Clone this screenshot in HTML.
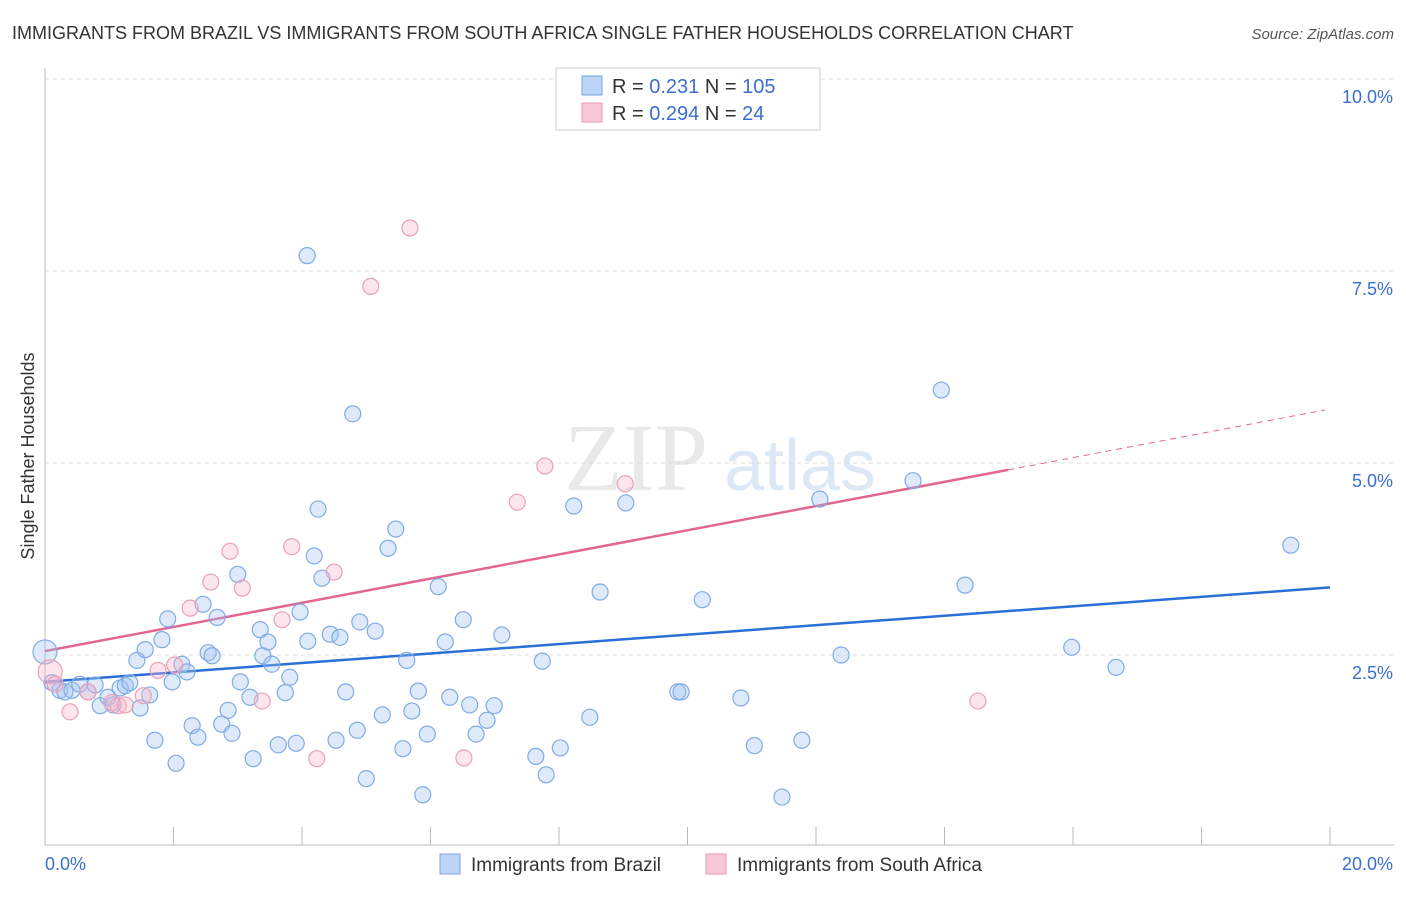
<!DOCTYPE html>
<html><head><meta charset="utf-8"><style>
body{margin:0;background:#fff;font-family:"Liberation Sans",sans-serif}
</style></head><body>
<svg id="chart" width="1406" height="892" xmlns="http://www.w3.org/2000/svg" font-family="Liberation Sans, sans-serif">
<text x="12" y="39" font-size="18" fill="#333">IMMIGRANTS FROM BRAZIL VS IMMIGRANTS FROM SOUTH AFRICA SINGLE FATHER HOUSEHOLDS CORRELATION CHART</text>
<text x="1394" y="39" font-size="15" fill="#555" text-anchor="end" font-style="italic">Source: ZipAtlas.com</text>
<text transform="translate(34,456) rotate(-90)" font-size="18" fill="#333" text-anchor="middle">Single Father Households</text>
<g opacity="0.25">
<text x="636" y="490" font-size="96" fill="#aaa" text-anchor="middle" font-family="Liberation Serif, serif">ZIP</text>
<text x="800" y="490" font-size="72" fill="#7aa6e0" text-anchor="middle">atlas</text>
</g>
<g id="grid"></g><g id="axes"></g><g id="trend"></g><g id="pts"></g>
<g>
<rect x="556" y="68" width="264" height="62" fill="#fff" stroke="#ccc"/>
<rect x="582" y="76" width="20" height="19" fill="#bcd4f5" stroke="#7aa6e0"/>
<rect x="582" y="103" width="20" height="19" fill="#f9c8d6" stroke="#e89ab0"/>
<text x="612" y="93" font-size="20" fill="#333">R = <tspan fill="#3a6fd0">0.231</tspan>   N = <tspan fill="#3a6fd0">105</tspan></text>
<text x="612" y="120" font-size="20" fill="#333">R = <tspan fill="#3a6fd0">0.294</tspan>   N =   <tspan fill="#3a6fd0">24</tspan></text>
</g>
<g>
<rect x="440" y="854" width="20" height="20" fill="#bcd4f5" stroke="#7aa6e0"/>
<text x="471" y="871" font-size="19" fill="#333">Immigrants from Brazil</text>
<rect x="706" y="854" width="20" height="20" fill="#f9c8d6" stroke="#e89ab0"/>
<text x="737" y="871" font-size="19" fill="#333">Immigrants from South Africa</text>
</g>
</svg>
<script>
const yTicks=[2.5,5.0,7.5,10.0];
const yTickLabels=["2.5%","5.0%","7.5%","10.0%"];
const xTickLabels=["0.0%","20.0%"];
const brazilX=[0.00,0.11,0.23,0.31,0.42,0.54,0.67,0.78,0.86,0.98,1.06,1.17,1.25,1.32,1.48,1.43,1.56,1.63,1.71,1.82,1.91,1.98,2.04,2.13,2.21,2.29,2.38,2.46,2.54,2.60,2.68,2.75,2.85,2.91,3.00,3.04,3.19,3.24,3.35,3.39,3.47,3.53,3.63,3.74,3.81,3.91,3.97,4.08,4.09,4.19,4.25,4.31,4.44,4.53,4.59,4.68,4.79,4.86,4.90,5.00,5.14,5.25,5.34,5.46,5.57,5.63,5.71,5.81,5.88,5.95,6.12,6.23,6.30,6.51,6.61,6.71,6.88,6.99,7.11,7.64,7.74,7.80,8.02,8.23,8.48,8.64,9.04,9.85,9.90,10.23,10.83,11.04,11.47,11.78,12.06,12.39,13.51,13.95,14.32,15.98,16.67,19.39];
const brazilY=[2.54,2.14,2.04,2.02,2.04,2.12,2.02,2.11,1.84,1.95,1.85,2.07,2.10,2.14,1.81,2.43,2.57,1.98,1.39,2.70,2.97,2.15,1.09,2.38,2.28,1.58,1.43,3.16,2.53,2.49,2.99,1.60,1.78,1.48,3.55,2.15,1.95,1.15,2.83,2.49,2.67,2.38,1.33,2.01,2.21,1.35,3.06,7.70,2.68,3.79,4.40,3.50,2.77,1.39,2.73,2.02,5.64,1.52,2.93,0.89,2.81,1.72,3.89,4.14,1.28,2.43,1.77,2.03,0.68,1.47,3.39,2.67,1.95,2.96,1.85,1.47,1.65,1.84,2.76,1.18,2.42,0.94,1.29,4.44,1.69,3.32,4.48,2.02,2.02,3.22,1.94,1.32,0.65,1.39,4.53,2.50,4.77,5.95,3.41,2.60,2.34,3.93];
const safX=[0.08,0.16,0.39,0.67,1.04,1.14,1.25,1.53,1.76,2.02,2.26,2.58,2.88,3.07,3.38,3.69,3.84,4.23,4.50,5.07,5.68,6.52,7.35,7.78,9.03,14.52];
const safY=[2.28,2.12,1.76,2.02,1.88,1.84,1.85,1.97,2.30,2.37,3.11,3.45,3.85,3.37,1.90,2.96,3.91,1.15,3.58,7.30,8.06,1.16,4.49,4.96,4.73,1.90];
const brazilTrend=[[0,2.15],[20,3.38]];
const safTrend=[[0,2.55],[14.99,4.91]];
const safTrendExt=[[14.99,4.91],[19.92,5.69]];
const NS="http://www.w3.org/2000/svg";
const sx=v=>45+v*64.25, sy=v=>847-v*76.8;
function mk(tag,attrs,parent){const e=document.createElementNS(NS,tag);for(const k in attrs)e.setAttribute(k,attrs[k]);document.getElementById(parent).appendChild(e);return e;}
yTicks.forEach((t,i)=>{
 const l=mk('line',{x1:45,x2:1394,y1:sy(t),y2:sy(t),stroke:'#ddd','stroke-dasharray':'4,4'},'grid');
 
 
 const tx=mk('text',{x:1393,y:sy(t)+24,'font-size':18,fill:'#3a6fd0','text-anchor':'end'},'axes');
 tx.textContent=yTickLabels[i];
 
 
});
const ax=mk('line',{x1:45,x2:1394,y1:845,y2:845,stroke:'#bbb'},'axes');


const ay=mk('line',{x1:45,x2:45,y1:68,y2:845,stroke:'#bbb'},'axes');


for(let i=0;i<=10;i++){const t=mk('line',{x1:sx(i*2),x2:sx(i*2),y1:827,y2:845,stroke:'#bbb'},'axes');
 
 }
[[0,'start'],[20,'end']].forEach((p,i)=>{const t=mk('text',{x:i?1393:45,y:870,'font-size':18,fill:'#3a6fd0','text-anchor':p[1]},'axes');t.textContent=xTickLabels[i];
 
 });
function line(pts,col,dash,name){const l=mk('line',{x1:sx(pts[0][0]),y1:sy(pts[0][1]),x2:sx(pts[1][0]),y2:sy(pts[1][1]),stroke:col,'stroke-width':dash?1:2.5},'trend');if(dash)l.setAttribute('stroke-dasharray','6,5');
 
 }
brazilX.forEach((x,i)=>{const c=mk('circle',{cx:sx(x),cy:sy(brazilY[i]),r:i==0?12:8,fill:'rgba(160,196,240,0.35)',stroke:'#7fabe6','stroke-width':1.2},'pts');
 
 });
safX.forEach((x,i)=>{const c=mk('circle',{cx:sx(x),cy:sy(safY[i]),r:i==0?12:8,fill:'rgba(245,180,200,0.35)',stroke:'#eba0b8','stroke-width':1.2},'pts');
 
 });
line(brazilTrend,'#2a6fd6',false,'brazil-trend-line');
line(safTrend,'#e2668f',false,'south-africa-trend-line');
line(safTrendExt,'#e2668f',true,'south-africa-trend-extension');
</script>
</body></html>
